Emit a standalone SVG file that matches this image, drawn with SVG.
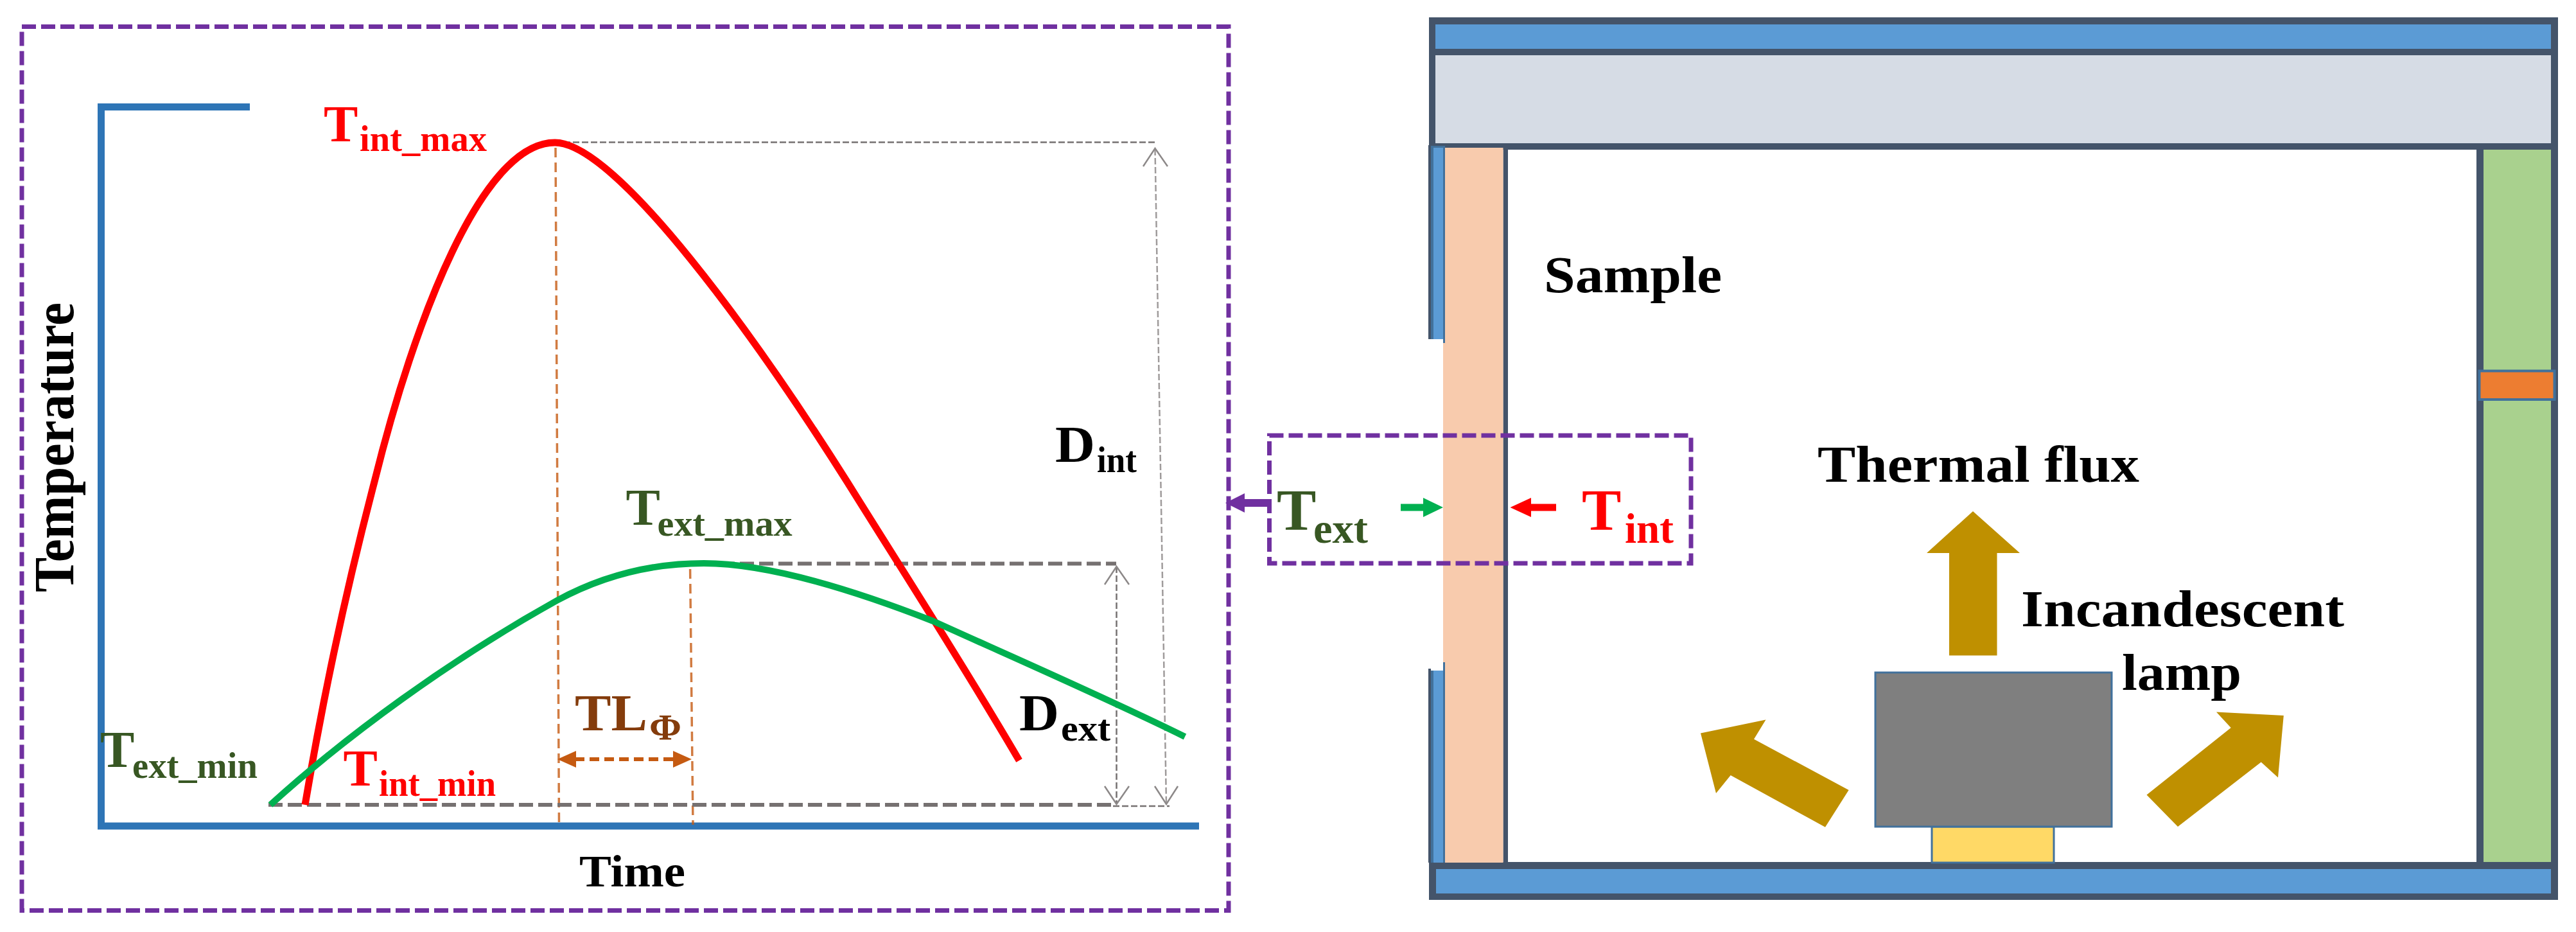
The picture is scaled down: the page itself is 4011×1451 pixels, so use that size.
<svg xmlns="http://www.w3.org/2000/svg" width="4011" height="1451" viewBox="0 0 4011 1451">
<style>
text{font-family:"Liberation Serif","Times New Roman",serif;font-weight:bold}
.lab{font-size:80px}.sub{font-size:56px}.lab2{font-size:92px}.sub2{font-size:66px}
.frame{fill:none;stroke:#7030A0;stroke-width:7;stroke-dasharray:22 8}
.axis{fill:none;stroke:#2E75B6;stroke-width:11}
.curve{fill:none}
.gthick{stroke:#767171;stroke-width:6;stroke-dasharray:22 8;fill:none}
.gthin{stroke:#767171;stroke-width:2.5;stroke-dasharray:10 4;fill:none}
.br{stroke:#C55A11;stroke-width:3.5;stroke-dasharray:15 8;fill:none;opacity:.8}
.head{fill:none;stroke:#8c8888;stroke-width:2.5}
.dark{fill:#44546A}.blue{fill:#5B9BD5}.edge{fill:#41719C}.gold{fill:#BF9000}
</style>
<g id="chart-frame"><rect class="frame" x="34" y="41.500" width="1879" height="1376"/></g>
<g id="room">
<rect class="dark" x="2225" y="27" width="1758" height="206"/>
<rect class="dark" x="3972" y="233" width="11" height="1168"/>
<rect class="dark" x="2225" y="1342" width="1758" height="59"/>
<rect class="blue" x="2235" y="38" width="1737" height="38"/>
<rect x="2235" y="86" width="1737" height="137" fill="#D6DCE5"/>
<rect class="blue" x="2236" y="1353" width="1736" height="38"/>
<rect class="dark" x="3856" y="233" width="11" height="1110"/>
<rect x="3867" y="233" width="105" height="1109" fill="#A9D18E"/>
<rect x="3860.500" y="577.500" width="117" height="44.500" fill="#ED7D31" stroke="#41719C" stroke-width="4"/>
<rect class="dark" x="2340.500" y="233" width="7.500" height="1110"/>
<rect x="2247" y="230" width="93.500" height="1113" fill="#F8CBAD"/>
<rect class="dark" x="2224" y="226" width="4" height="302"/>
<rect class="edge" x="2228" y="227" width="22" height="301"/>
<rect class="edge" x="2247" y="227" width="3" height="307"/>
<rect class="blue" x="2232" y="230" width="15" height="298"/>
<rect class="dark" x="2224" y="1041" width="4" height="302"/>
<rect class="edge" x="2228" y="1044" width="4" height="299"/>
<rect class="edge" x="2247" y="1031" width="3" height="312"/>
<rect class="blue" x="2232" y="1044" width="15" height="299"/>
</g>
<g id="lamp">
<rect x="3008" y="1287" width="190" height="56" fill="#FFD966" stroke="#41719C" stroke-width="3"/>
<rect x="2920" y="1047" width="368" height="240" fill="#7F7F7F" stroke="#41719C" stroke-width="3"/>
</g>
<g id="flux-arrows">
<polygon class="gold" points="3072,796 3145,861 3109.500,861 3109.500,1020.500 3035,1020.500 3035,861 3000,861"/>
<polygon class="gold" points="2648,1141.600 2749.500,1120.600 2731,1150.800 2878.600,1230 2842,1287.700 2694.700,1207 2672,1235"/>
<polygon class="gold" points="3555.800,1114 3451,1108.400 3473.700,1133 3342.500,1237.600 3391,1287 3520.700,1186.500 3547,1210.600"/>
</g>
<g id="connectors">
<path class="axis" d="M389,166.500H157.500V1286H1867"/>
<path class="gthin" d="M864,221.500H1799"/>
<path class="gthin" d="M1798.500,232L1816,1252" stroke-opacity=".7"/>
<path class="head" d="M1780,259L1798.500,231L1818,259M1798,1224L1816,1252L1834,1224"/>
<path class="gthick" d="M1092,877.500H1738"/>
<path class="gthin" d="M1738.500,882V1252"/>
<path class="head" d="M1720,910L1738.500,882L1758,910M1720,1224L1738.500,1252L1758,1224"/>
<path class="gthin" d="M1733,1255H1821"/>
<path class="br" d="M865,230L870.500,1286"/>
<path class="br" d="M1074.600,886L1079,1284"/>
<path fill="none" stroke="#C55A11" stroke-width="6" stroke-dasharray="15 8" d="M895,1182H1050"/>
<polygon fill="#C55A11" points="868,1182 897,1169 897,1195"/>
<polygon fill="#C55A11" points="1077,1182 1048,1169 1048,1195"/>
<path class="gthick" d="M418,1253H1733"/>
<path class="curve" stroke="#FF0000" stroke-width="11" d="M475,1253C503,1085 539,918 583,750C645,500 750,222 864,222C960,222 1180,530 1319,750C1400,880 1500,1035 1587,1184"/>
<path class="curve" stroke="#00B050" stroke-width="10" d="M421,1253C540,1145 700,1028 867,935C950,890 1030,877 1096,877C1190,877 1320,915 1453,967C1520,998 1720,1085 1845,1147"/>
<path fill="none" stroke="#7030A0" stroke-width="12" d="M1976,783H1935"/>
<polygon fill="#7030A0" points="1908,783 1938,768 1938,798"/>
<path fill="none" stroke="#00B050" stroke-width="11" d="M2181,790H2220"/>
<polygon fill="#00B050" points="2247,790 2216,775 2216,805"/>
<path fill="none" stroke="#FF0000" stroke-width="11" d="M2423,790H2380"/>
<polygon fill="#FF0000" points="2351.500,790 2384,775 2384,805"/>
</g>
<g id="zoom-frame"><rect class="frame" x="1976.500" y="678" width="656.500" height="199"/></g>
<g id="labels">
<text class="lab" x="504" y="220" fill="#FF0000">T<tspan class="sub" x="560" y="235" textLength="198" lengthAdjust="spacingAndGlyphs">int_max</tspan></text>
<text class="lab" x="156" y="1194" fill="#385723">T<tspan class="sub" x="206" y="1211" textLength="195" lengthAdjust="spacingAndGlyphs">ext_min</tspan></text>
<text class="lab" x="534.500" y="1222.500" fill="#FF0000">T<tspan class="sub" x="590" y="1239" textLength="182" lengthAdjust="spacingAndGlyphs">int_min</tspan></text>
<text class="lab" x="974.500" y="817" fill="#385723">T<tspan class="sub" x="1023.600" y="834" textLength="210" lengthAdjust="spacingAndGlyphs">ext_max</tspan></text>
<text class="lab" x="895" y="1136.700" fill="#843C0C"><tspan textLength="113" lengthAdjust="spacingAndGlyphs">TL</tspan><tspan class="sub" x="1011" y="1152" textLength="50" lengthAdjust="spacingAndGlyphs">Φ</tspan></text>
<text class="lab" x="1587" y="1136.700" fill="#000"><tspan textLength="62" lengthAdjust="spacingAndGlyphs">D</tspan><tspan class="sub" x="1652" y="1153" textLength="77" lengthAdjust="spacingAndGlyphs">ext</tspan></text>
<text class="lab" x="1643" y="719" fill="#000"><tspan textLength="62" lengthAdjust="spacingAndGlyphs">D</tspan><tspan class="sub" x="1708" y="735" textLength="62" lengthAdjust="spacingAndGlyphs">int</tspan></text>
<text transform="translate(113.500 922) rotate(-90)" textLength="451" lengthAdjust="spacingAndGlyphs" fill="#000" style="font-size:88px">Temperature</text>
<text x="902" y="1379.500" textLength="165" lengthAdjust="spacingAndGlyphs" fill="#000" style="font-size:70px">Time</text>
<text class="lab2" x="1988" y="825" fill="#385723">T<tspan class="sub2" x="2045" y="845" textLength="85" lengthAdjust="spacingAndGlyphs">ext</tspan></text>
<text class="lab2" x="2463" y="825" fill="#FF0000">T<tspan class="sub2" x="2530" y="845" textLength="76" lengthAdjust="spacingAndGlyphs">int</tspan></text>
<text class="lab" x="2404" y="455" textLength="277" lengthAdjust="spacingAndGlyphs" fill="#000">Sample</text>
<text class="lab" x="2830" y="749.500" textLength="501" lengthAdjust="spacingAndGlyphs" fill="#000">Thermal flux</text>
<text class="lab" x="3147" y="974.500" textLength="503" lengthAdjust="spacingAndGlyphs" fill="#000">Incandescent</text>
<text class="lab" x="3304" y="1074" textLength="186" lengthAdjust="spacingAndGlyphs" fill="#000">lamp</text>
</g>
</svg>
